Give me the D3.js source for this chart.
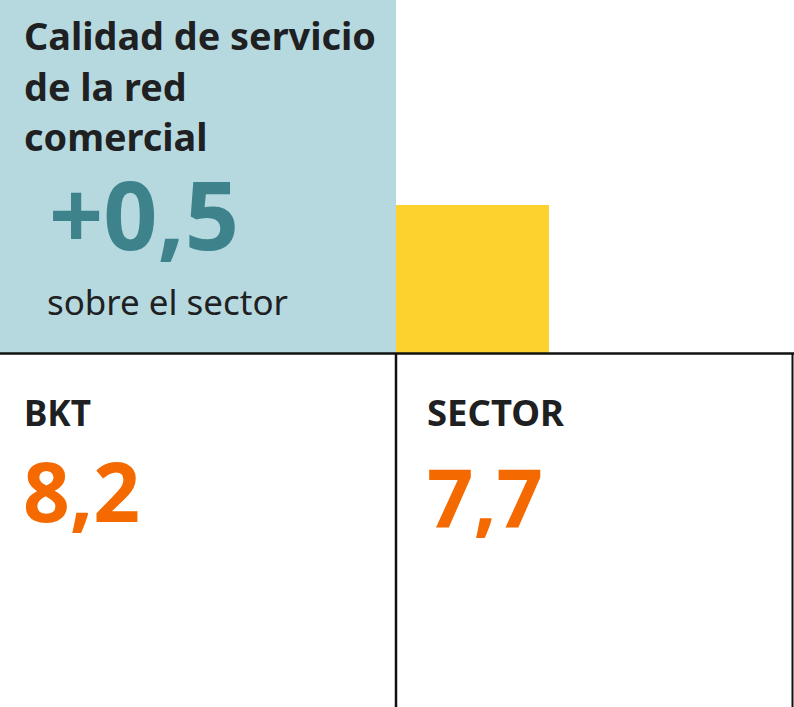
<!DOCTYPE html>
<html>
<head>
<meta charset="utf-8">
<script src="https://cdn.jsdelivr.net/npm/d3@7/dist/d3.min.js"></script>
<style>
  html, body { margin: 0; padding: 0; background: #fff; }
  svg { display: block; font-family: "Noto Sans", "Open Sans", sans-serif; }
</style>
</head>
<body>
<svg id="chart"></svg>
<script>
"use strict";

// data
const titleLines = ["Calidad de servicio", "de la red", "comercial"];
const diffValue = 0.5;
const diffLabel = "sobre el sector";
const categories = ["BKT", "SECTOR"];
const scores = [8.2, 7.7];

const width = 794, height = 707;
const esLocale = d3.formatLocale({decimal: ",", thousands: ".", grouping: [3], currency: ["", " €"]});
const fmt = esLocale.format(".1f");
const fmtSigned = esLocale.format("+.1f");

const svg = d3.select("#chart").attr("width", width).attr("height", height);

// fit a text element's font size so its rendered width matches target
function fitWidth(sel, target){
  let size = parseFloat(sel.attr("font-size"));
  let w = sel.node().getComputedTextLength();
  if(w > 0) sel.attr("font-size", (size * target / w).toFixed(2));
  return parseFloat(sel.attr("font-size"));
}

let topH = 353;
let x = d3.scaleBand().domain(categories).range([0, 792]);

// header panel
svg.append("rect")
  .attr("x", 0).attr("y", 0)
  .attr("width", x.bandwidth()).attr("height", topH)
  .attr("fill", "#b6d9e0");

// yellow accent block
svg.append("rect")
  .attr("x", x.bandwidth()).attr("y", 205)
  .attr("width", 153).attr("height", topH - 205)
  .attr("fill", "#fdd22f");

let title = svg.append("g").attr("fill", "#1e2022").attr("font-weight", 700);
let t0 = title.append("text").attr("x", 24).attr("y", 50).attr("font-size", 36).text(titleLines[0]);
let tSize = fitWidth(t0, 352);
titleLines.slice(1).forEach((line, i) => {
  title.append("text").attr("x", 24).attr("y", 50 + (i + 1) * 50.5)
    .attr("font-size", tSize).text(line);
});

let big = svg.append("text")
  .attr("x", 49).attr("y", 250)
  .attr("font-size", 84).attr("font-weight", 700)
  .attr("fill", "#3e838c")
  .text(fmtSigned(diffValue));
fitWidth(big, 190);

let sub = svg.append("text")
  .attr("x", 47).attr("y", 315)
  .attr("font-size", 32).attr("fill", "#1e2022")
  .text(diffLabel);
fitWidth(sub, 241);

// score boxes
let cells = svg.selectAll("g.cell")
  .data(categories.map((c, i) => ({name: c, value: scores[i]})))
  .enter().append("g")
    .attr("class", "cell")
    .attr("transform", d => `translate(${x(d.name)},0)`);

let labelW = {BKT: 67, SECTOR: 137};
let valueW = {BKT: 117, SECTOR: 116};
let valueY = {BKT: 522, SECTOR: 528};

cells.append("text")
  .attr("x", (d, i) => i ? 31 : 24).attr("y", 426)
  .attr("font-size", 34).attr("font-weight", 700)
  .attr("fill", "#1e2022")
  .text(d => d.name)
  .each(function(d){ fitWidth(d3.select(this), labelW[d.name]); });

cells.append("text")
  .attr("x", (d, i) => i ? 31 : 23).attr("y", d => valueY[d.name])
  .attr("font-size", 82).attr("font-weight", 700)
  .attr("fill", "#f46a00")
  .text(d => fmt(d.value))
  .each(function(d){ fitWidth(d3.select(this), valueW[d.name]); });

// frame lines
let lines = svg.append("g").attr("stroke", "#111").attr("stroke-width", 2.5).attr("fill", "none");
lines.append("line").attr("x1", 0).attr("x2", width).attr("y1", topH + 0.5).attr("y2", topH + 0.5);
lines.append("line").attr("x1", x("SECTOR")).attr("x2", x("SECTOR")).attr("y1", topH).attr("y2", height);
lines.append("line").attr("x1", 792.5).attr("x2", 792.5).attr("y1", topH).attr("y2", height).attr("stroke-width", 2);
</script>
</body>
</html>
